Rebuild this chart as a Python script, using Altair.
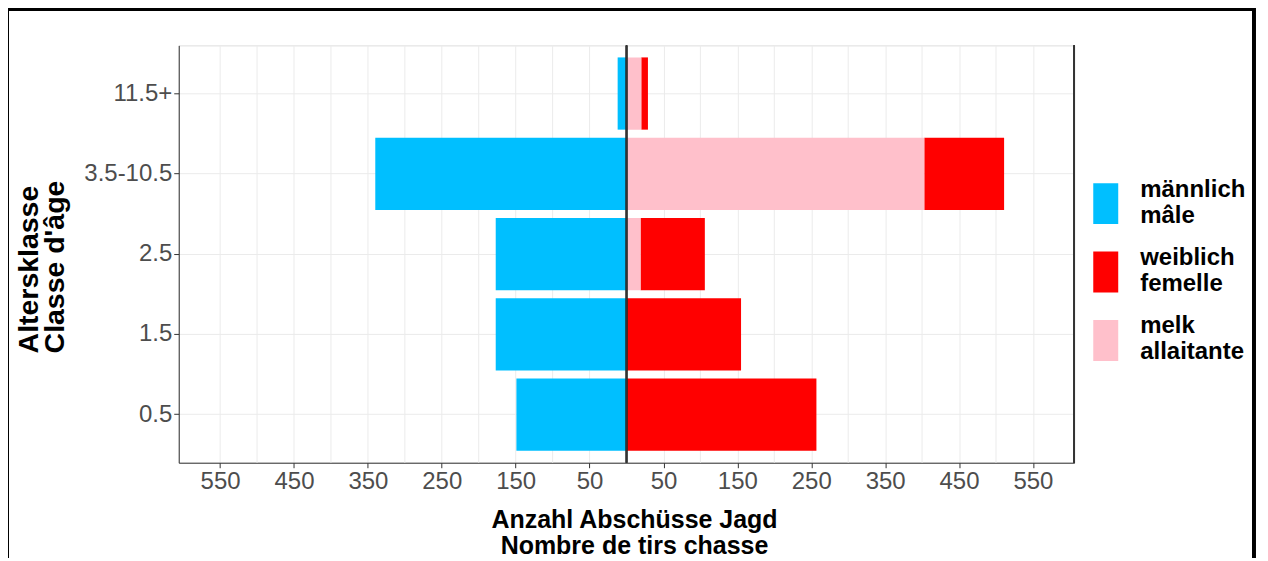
import altair as alt
import pandas as pd

# ---- data ----
age_classes = ["11.5+", "3.5-10.5", "2.5", "1.5", "0.5"]
maennlich = [12, 340, 177, 177, 149]
weiblich = [9, 108, 87, 155, 257]
melk = [20, 403, 19, 0, 0]

groups = ["männlich\nmâle", "weiblich\nfemelle", "melk\nallaitante"]
group_colors = ["#00BFFF", "#FF0000", "#FFC0CB"]
stack_order = [2, 1, 0]

x_tick_values = [-550, -450, -350, -250, -150, -50, 50, 150, 250, 350, 450, 550]
x_minor_values = [-500, -400, -300, -200, -100, 100, 200, 300, 400, 500]

rows = []
for i, a in enumerate(age_classes):
    rows.append({"age": a, "group": groups[0], "value": -maennlich[i], "ord": stack_order[0]})
    rows.append({"age": a, "group": groups[1], "value": weiblich[i], "ord": stack_order[1]})
    rows.append({"age": a, "group": groups[2], "value": melk[i], "ord": stack_order[2]})
df = pd.DataFrame(rows)
grid_df = pd.DataFrame({"value": x_minor_values})

W, H = 897, 418
FONT = "Liberation Sans"

minor_grid = alt.Chart(grid_df).mark_rule(color="#EBEBEB", strokeWidth=1).encode(
    x=alt.X("value:Q")
)

bars = alt.Chart(df).mark_bar().encode(
    y=alt.Y(
        "age:N",
        sort=age_classes,
        scale=alt.Scale(paddingInner=0.1, paddingOuter=0.15),
        axis=alt.Axis(
            title=["Altersklasse", "Classe d'âge"],
            titleFont=FONT,
            titleFontSize=28.5,
            titleFontWeight="bold",
            titleColor="#000000",
            titleAngle=270,
            titleAlign="left",
            titleBaseline="alphabetic",
            titleLineHeight=26,
            titleX=-141,
            titleY=308,
            labelFont=FONT,
            labelFontSize=24,
            labelColor="#4D4D4D",
            labelPadding=2,
            tickSize=5,
            tickColor="#333333",
            domainColor="#333333",
            grid=True,
            gridColor="#EBEBEB",
            gridWidth=1,
        ),
    ),
    x=alt.X(
        "value:Q",
        stack="zero",
        scale=alt.Scale(domain=[-606, 606], nice=False, zero=False),
        axis=alt.Axis(
            values=x_tick_values,
            labelExpr="abs(datum.value)",
            title=["Anzahl Abschüsse Jagd", "Nombre de tirs chasse"],
            titleFont=FONT,
            titleFontSize=25,
            titleFontWeight="bold",
            titleColor="#000000",
            titleLineHeight=26,
            titleAlign="center",
            titleBaseline="alphabetic",
            titleX=456,
            titleY=65,
            labelFont=FONT,
            labelFontSize=24,
            labelColor="#4D4D4D",
            labelPadding=2,
            labelFlush=False,
            tickSize=5,
            tickColor="#333333",
            domainColor="#333333",
            grid=True,
            gridColor="#EBEBEB",
            gridWidth=1,
        ),
    ),
    color=alt.Color(
        "group:N",
        scale=alt.Scale(domain=groups, range=group_colors),
        legend=alt.Legend(
            title=None,
            orient="none",
            legendX=908,
            legendY=124,
            symbolType="M-0.61,-0.317H0.61V1.683H-0.61Z",
            symbolSize=1681,
            symbolStrokeWidth=0,
            symbolOpacity=1,
            labelExpr="split(datum.label, '\\n')",
            labelFont=FONT,
            labelFontSize=24,
            labelFontWeight="bold",
            labelColor="#000000",
            labelOffset=14,
            labelLimit=0,
            rowPadding=9.5,
            padding=0,
        ),
    ),
    order=alt.Order("ord:Q"),
)

zero_line = alt.Chart(df).mark_rule(color="#333333", strokeWidth=1.2).encode(
    x=alt.datum(0)
)
right_border = alt.Chart(df).mark_rule(color="#333333", strokeWidth=1).encode(
    x=alt.datum(606)
)
frame = alt.Chart(df).mark_rect(
    fillOpacity=0, stroke="#000000", strokeWidth=3
).encode(
    x=alt.value(-171.5), x2=alt.value(1076.7), y=alt.value(-36), y2=alt.value(600)
)

chart = (
    alt.layer(minor_grid, bars, zero_line, right_border, frame)
    .properties(
        width=W,
        height=H,
        autosize=alt.AutoSizeParams(type="none"),
        padding={"left": 171, "top": 37, "right": 186, "bottom": 95},
    )
    .configure_view(stroke="#EBEBEB")
    .configure(font=FONT)
)

chart.save("out.html", embed_options={"renderer": "svg", "actions": False})
